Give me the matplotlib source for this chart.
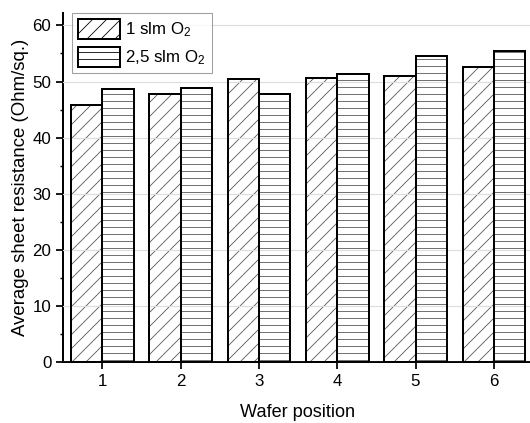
import matplotlib
matplotlib.use("Agg")
import matplotlib.pyplot as plt
import numpy as np
from matplotlib.patches import Patch

positions = [1, 2, 3, 4, 5, 6]
slm_1 = [45.9, 47.7, 50.4, 50.7, 51.0, 52.5]
slm_25 = [48.6, 48.8, 47.7, 51.3, 54.6, 55.5]
labels = ["1 slm O$_2$", "2,5 slm O$_2$"]

DPI = 84
plt.rcParams['font.family'] = ['Liberation Sans', 'DejaVu Sans']
plt.rcParams['mathtext.default'] = 'regular'
plt.rcParams['hatch.linewidth'] = 0.7

fig = plt.figure(figsize=(530 / DPI, 423 / DPI), dpi=DPI)
ax = fig.add_axes([63 / 530, 1 - 362.3 / 423, (533 - 63) / 530, (362.3 - 13) / 423])

x = np.array(positions, dtype=float)
w = 0.4
hatch_col = '#555555'
for vals, off, hatch in [(slm_1, -w / 2, '//'), (slm_25, w / 2, '--')]:
    ax.bar(x + off, vals, width=w, facecolor='white', edgecolor=hatch_col,
           hatch=hatch, linewidth=0, zorder=1)
    ax.bar(x + off, vals, width=w, facecolor='none', edgecolor='black',
           linewidth=1.7, zorder=3)

ax.set_xlim(0.5, 6.5)
ax.set_ylim(0, 62.2)
ax.set_xticks(positions)
ax.set_yticks(np.arange(0, 61, 10))
ax.set_yticks(np.arange(5, 61, 10), minor=True)
ax.grid(axis='y', which='major', color='#dddddd', linewidth=1.0, zorder=2)
ax.set_axisbelow(False)

for s in ['top', 'right']:
    ax.spines[s].set_visible(False)
for s in ['left', 'bottom']:
    ax.spines[s].set_linewidth(1.7)

ax.tick_params(axis='both', which='major', direction='out', length=6, width=1.5,
               labelsize=14.5, pad=4)
ax.tick_params(axis='y', which='minor', direction='out', length=3, width=1.2)
ax.tick_params(axis='x', which='minor', bottom=False)

ax.set_xlabel("Wafer position", fontsize=15.5, labelpad=13)
ax.set_ylabel("Average sheet resistance (Ohm/sq.)", fontsize=16, labelpad=3)

handles = [
    Patch(facecolor='white', edgecolor='black', hatch='//', linewidth=1.7),
    Patch(facecolor='white', edgecolor='black', hatch='--', linewidth=1.7),
]
leg = ax.legend(handles, labels, loc='upper left', bbox_to_anchor=(9 / 470, 1.0),
                fontsize=14.5, frameon=True, fancybox=False, edgecolor='#888888',
                handlelength=2.5, handleheight=1.45, handletextpad=0.3,
                borderaxespad=0.0, borderpad=0.35, labelspacing=0.45)
leg.get_frame().set_linewidth(0.9)
leg.set_zorder(5)

fig.savefig("out.png", dpi=DPI)
